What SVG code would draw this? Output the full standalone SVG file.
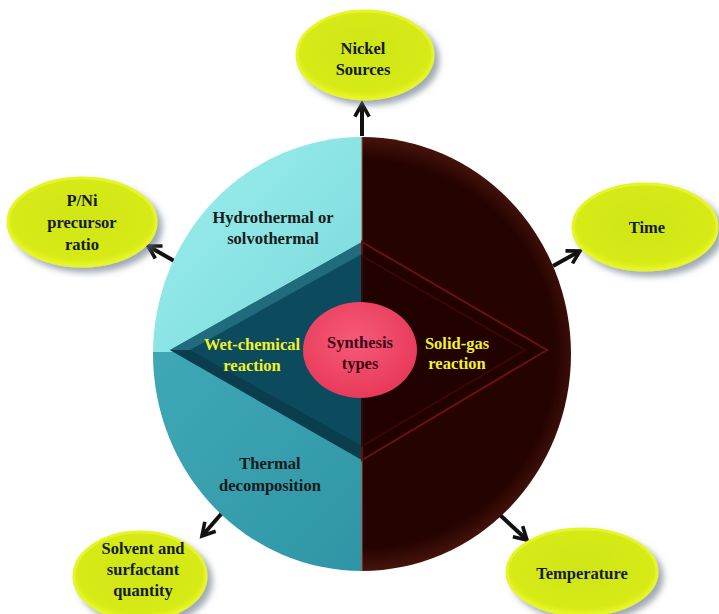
<svg xmlns="http://www.w3.org/2000/svg" width="719" height="614" viewBox="0 0 719 614">
<style>
.t{font-family:"Liberation Serif","Times New Roman",serif;font-weight:bold;font-size:16.5px;text-anchor:middle}
.dk{fill:#141a1a}
.yl{fill:#f2f22a}
.pk{fill:#3a0514}
.oval{fill:url(#yg);stroke:#e6f42a;stroke-width:3;filter:url(#sh)}
.arr{stroke:#111;stroke-width:4;fill:none;marker-end:url(#ah)}
</style>
<defs>
<radialGradient id="yg" cx="50%" cy="45%" r="55%">
<stop offset="0" stop-color="#cfe61a"/>
<stop offset="0.85" stop-color="#d6ea12"/>
<stop offset="1" stop-color="#e8f52c"/>
</radialGradient>
<filter id="sh" x="-20%" y="-20%" width="150%" height="150%">
<feGaussianBlur in="SourceAlpha" stdDeviation="3"/>
<feOffset dx="5" dy="5" result="b"/>
<feFlood flood-color="#607080" flood-opacity="0.6"/>
<feComposite in2="b" operator="in"/>
<feMerge><feMergeNode/><feMergeNode in="SourceGraphic"/></feMerge>
</filter>
<linearGradient id="tl" x1="0" y1="0" x2="1" y2="1">
<stop offset="0" stop-color="#9ef0ee"/>
<stop offset="1" stop-color="#7ad8da"/>
</linearGradient>
<linearGradient id="bl" x1="0" y1="0" x2="1" y2="1">
<stop offset="0" stop-color="#3fa8b6"/>
<stop offset="1" stop-color="#2f95a6"/>
</linearGradient>
<radialGradient id="rh" cx="362" cy="354" r="215" gradientUnits="userSpaceOnUse">
<stop offset="0.9" stop-color="#240300"/>
<stop offset="1" stop-color="#44120a"/>
</radialGradient>
<radialGradient id="pg" cx="45%" cy="40%" r="60%">
<stop offset="0" stop-color="#f65a78"/>
<stop offset="1" stop-color="#e83a5a"/>
</radialGradient>
<marker id="ah" viewBox="0 0 10 10" refX="8" refY="5" markerWidth="4.5" markerHeight="4.5" orient="auto">
<path d="M1,1 L8,5 L1,9" fill="none" stroke="#111" stroke-width="2"/>
</marker>
<clipPath id="cc"><ellipse cx="362" cy="354" rx="209" ry="217"/></clipPath>
</defs>
<rect width="719" height="614" fill="#ffffff"/>

<g id="connectors">
<line class="arr" x1="362" y1="136" x2="362" y2="104"/>
<line class="arr" x1="176" y1="262" x2="148" y2="246"/>
<line class="arr" x1="553" y1="266" x2="580" y2="251"/>
<line class="arr" x1="222" y1="513" x2="202" y2="536"/>
<line class="arr" x1="500" y1="515" x2="527" y2="540"/>
</g>

<g id="wheel">
<g clip-path="url(#cc)">
<rect x="150" y="130" width="212" height="222" fill="url(#tl)"/>
<rect x="150" y="352" width="212" height="230" fill="url(#bl)"/>
<rect x="362" y="130" width="220" height="452" fill="url(#rh)"/>
</g>
<line x1="362" y1="137" x2="362" y2="571" stroke="#a05a3a" stroke-width="1"/>
<polygon points="362,242 170,350 362,460" fill="#0c4a5e"/>
<polygon points="362,242 170,350 190,350 362,254" fill="#2a7a8a" opacity="0.7"/>
<polygon points="362,460 170,350 190,350 362,446" fill="#0a3a4a" opacity="0.8"/>
<polygon points="362,242 547,350 362,460" fill="#220200" stroke="#6a1208" stroke-width="2"/>
<polygon points="362,256 525,350 362,446" fill="none" stroke="#3a0804" stroke-width="2"/>
</g>

<g id="hydro">
<text class="t dk" x="273" y="223">Hydrothermal or</text>
<text class="t dk" x="273" y="244">solvothermal</text>
</g>
<g id="thermal">
<text class="t dk" x="270" y="469">Thermal</text>
<text class="t dk" x="270" y="491">decomposition</text>
</g>
<g id="wet">
<text class="t yl" x="252" y="350">Wet-chemical</text>
<text class="t yl" x="252" y="371">reaction</text>
</g>
<g id="solid">
<text class="t yl" x="457" y="349">Solid-gas</text>
<text class="t yl" x="457" y="369">reaction</text>
</g>
<g id="center">
<ellipse cx="360" cy="350" rx="57" ry="48" fill="url(#pg)"/>
<text class="t pk" x="360" y="348">Synthesis</text>
<text class="t pk" x="360" y="369">types</text>
</g>

<g id="nickel">
<ellipse class="oval" cx="365" cy="55" rx="68" ry="44"/>
<text class="t dk" x="363" y="54">Nickel</text>
<text class="t dk" x="363" y="75">Sources</text>
</g>
<g id="pni">
<ellipse class="oval" cx="82" cy="222" rx="74" ry="44"/>
<text class="t dk" x="82" y="206">P/Ni</text>
<text class="t dk" x="82" y="228">precursor</text>
<text class="t dk" x="82" y="250">ratio</text>
</g>
<g id="time">
<ellipse class="oval" cx="645" cy="227" rx="72" ry="43"/>
<text class="t dk" x="647" y="233">Time</text>
</g>
<g id="solvent">
<ellipse class="oval" cx="140" cy="576" rx="66" ry="44"/>
<text class="t dk" x="143" y="554">Solvent and</text>
<text class="t dk" x="143" y="575">surfactant</text>
<text class="t dk" x="143" y="596">quantity</text>
</g>
<g id="temperature">
<ellipse class="oval" cx="582" cy="572" rx="75" ry="43"/>
<text class="t dk" x="582" y="579">Temperature</text>
</g>
</svg>
